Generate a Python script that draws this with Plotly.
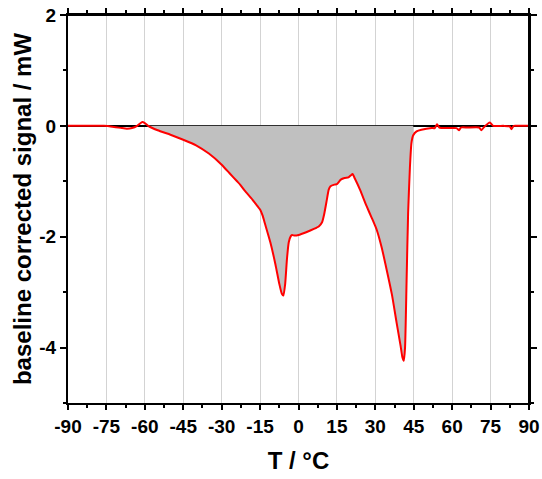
import plotly.graph_objects as go
import numpy as np

# Temperature (°C) and baseline corrected signal (mW)
T = [-90, -80, -76, -72, -69, -67, -65, -63, -61, -60, -58.7, -55, -50, -45, -40, -35, -30,
     -27, -24, -22.8, -21, -18, -16, -15, -14, -13, -11, -9, -7.5, -6.5, -5.9, -5.2, -4.5,
     -3.8, -3.0, -2.5, -1.5, 0, 3, 6, 8, 9.2, 10, 11, 11.8, 12.5, 14, 15, 16.5, 18, 19.5,
     20.5, 21.1, 22, 24, 26.6, 28.5, 30.5, 32.5, 34.4, 36.5, 38.3, 39.8, 40.6, 41.1, 41.6,
     42.2, 42.8, 43.5, 44.1, 44.8, 46.1, 48, 52, 53.2, 54.1, 55, 58, 61.7, 62.7, 63.4, 66,
     70.5, 71.4, 72.5, 74.7, 76, 80, 82.5, 83.1, 84, 86, 90]
signal = [0, 0, 0, -0.02, -0.04, -0.05, -0.04, 0.0, 0.07, 0.05, 0, -0.08, -0.16, -0.25, -0.35,
          -0.5, -0.7, -0.85, -1.0, -1.06, -1.17, -1.33, -1.45, -1.51, -1.62, -1.78, -2.1, -2.5,
          -2.85, -3.03, -3.06, -2.85, -2.4, -2.1, -1.99, -1.97, -1.98, -1.97, -1.92, -1.86,
          -1.81, -1.74, -1.6, -1.35, -1.15, -1.09, -1.06, -1.05, -0.97, -0.94, -0.93, -0.89,
          -0.87, -0.95, -1.15, -1.45, -1.65, -1.87, -2.2, -2.59, -3.05, -3.55, -3.95, -4.18,
          -4.24, -4.0, -2.8, -1.57, -0.75, -0.31, -0.17, -0.1, -0.07, -0.04, -0.04, 0.03,
          -0.03, -0.04, -0.04, -0.08, -0.03, -0.03, -0.03, -0.08, -0.02, 0.06, 0, 0, -0.01,
          -0.06, 0, 0, 0]

x_ticks = list(range(-90, 91, 15))
y_ticks = [-4, -2, 0, 2]

Ta = np.array(T)
Sa = np.array(signal)
mask = (Ta >= -58.7) & (Ta <= 44.8)

fig = go.Figure()
fig.add_trace(go.Scatter(x=Ta[mask], y=Sa[mask], mode="lines", fill="tozeroy",
                         fillcolor="#c0c0c0", line=dict(width=0, color="#c0c0c0"),
                         hoverinfo="skip", showlegend=False))
fig.add_trace(go.Scatter(x=T, y=signal, mode="lines",
                         line=dict(color="#ff0000", width=2, shape="spline", smoothing=0.5),
                         showlegend=False))

# plot frame (top and right edges)
fig.add_shape(type="line", xref="paper", yref="paper", x0=0, x1=1, y0=1, y1=1,
              line=dict(color="black", width=2), layer="above")
fig.add_shape(type="line", xref="paper", yref="paper", x0=1, x1=1, y0=0, y1=1,
              line=dict(color="black", width=2), layer="above")

font_fam = "Liberation Sans, Arial, sans-serif"
fig.update_layout(
    width=542, height=479,
    margin=dict(l=68, r=13, t=15, b=76),
    plot_bgcolor="white", paper_bgcolor="white",
    font=dict(family=font_fam, color="black"),
    xaxis=dict(range=[-90, 90], tickvals=x_ticks, ticktext=[str(v) for v in x_ticks],
               automargin=False, ticklabeloverflow="allow",
               showgrid=True, gridcolor="#d3d3d3", gridwidth=1,
               ticks="outside", ticklen=5, tickwidth=2, tickcolor="black",
               minor=dict(dtick=7.5, ticks="outside", ticklen=3, tickwidth=2,
                          tickcolor="black", showgrid=False),
               showline=True, linecolor="black", linewidth=2, mirror="all",
               zeroline=False,
               tickfont=dict(size=19, family=font_fam, weight="bold"),
               title=dict(text="<b>T / °C</b>", font=dict(size=24, family=font_fam), standoff=16)),
    yaxis=dict(range=[-5, 2], tickvals=y_ticks, ticktext=[str(v) for v in y_ticks],
               automargin=False, ticklabeloverflow="allow",
               showgrid=False,
               ticks="outside", ticklen=6, tickwidth=2, tickcolor="black",
               minor=dict(dtick=1, ticks="outside", ticklen=3, tickwidth=2,
                          tickcolor="black", showgrid=False),
               showline=True, linecolor="black", linewidth=2, mirror="all",
               zeroline=True, zerolinecolor="black", zerolinewidth=2,
               tickfont=dict(size=19, family=font_fam, weight="bold"),
               title=dict(text="<b>baseline corrected signal / mW</b>",
                          font=dict(size=24, family=font_fam), standoff=1)),
)
fig.write_html("out.html", config={"displayModeBar": False},
               post_script="document.body.style.margin='0';")
